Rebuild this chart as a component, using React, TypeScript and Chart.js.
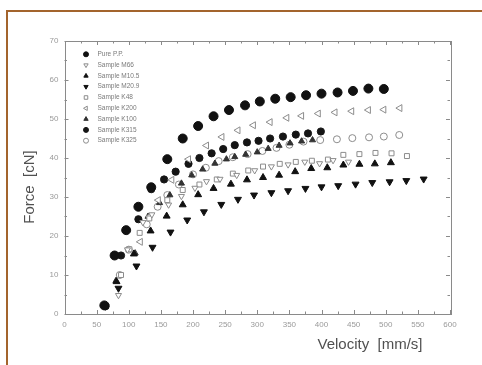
import React, { useEffect, useRef } from 'react';
import { Chart, registerables } from 'chart.js';
import { drawPoint } from 'chart.js/helpers';

Chart.register(...registerables);

// ---- data ----
const seriesNames = [
  'Pure P.P.',
  'Sample M66',
  'Sample M10.5',
  'Sample M20.9',
  'Sample K48',
  'Sample K200',
  'Sample K100',
  'Sample K315',
  'Sample K325',
];

const purePP = [[62,2.2],[78,15],[96,21.5],[115,27.5],[135,32.5],[160,39.7],[184,45],[208,48.2],[232,50.7],[256,52.3],[281,53.5],[304,54.5],[328,55.2],[352,55.6],[376,56.1],[400,56.5],[425,56.8],[449,57.2],[473,57.8],[497,57.7]];
const sampleM66 = [[84,4.8],[98,16.5],[122,23.5],[136,25.5],[162,28],[182,30.2],[203,32.3],[221,34],[242,34.6],[268,35.6],[296,36.8],[322,37.8],[348,38.3],[374,39],[397,38.6],[418,39.4],[442,39]];
const sampleM105 = [[81,8.3],[108,15.4],[134,21.3],[159,25.1],[184,28],[208,30.6],[232,32.2],[259,33.3],[284,34.4],[309,35],[334,35.6],[359,36.5],[384,37.3],[409,37.5],[434,38.2],[459,38.4],[483,38.5],[508,38.8]];
const sampleM209 = [[64,2],[84,6.6],[112,12.3],[137,17.1],[165,21],[191,24.1],[217,26.2],[244,28.1],[270,29.4],[295,30.5],[322,31.1],[348,31.6],[375,32.2],[400,32.6],[426,32.9],[453,33.3],[479,33.7],[506,33.9],[532,34.2],[559,34.6]];
const sampleK48 = [[88,10],[101,16.6],[117,20.8],[132,24.5],[160,29.2],[184,31.8],[210,33.2],[237,34.5],[262,36],[286,36.8],[309,37.8],[335,38.5],[360,39],[385,39.3],[410,39.6],[434,40.8],[459,41],[484,41.3],[509,41.2],[533,40.5]];
const sampleK200 = [[118,18.5],[132,25],[146,29.2],[167,34.4],[193,39.7],[221,43.2],[245,45.4],[270,47.1],[294,48.4],[320,49.2],[346,50.3],[369,50.8],[395,51.4],[421,51.7],[447,52],[473,52.3],[497,52.4],[522,52.8]];
const sampleK100 = [[80,8.5],[110,15.6],[130,25],[148,28.5],[164,30.5],[182,33.5],[198,35.6],[215,37.1],[234,38.6],[252,39.7],[265,40.3],[282,40.9],[300,41.5],[317,42.4],[334,43.2],[351,43.8],[369,44.3],[386,44.6]];
const sampleK315 = [[64,2],[88,15],[115,24.3],[135,32],[155,34.5],[173,36.5],[193,38.5],[210,40],[229,41.2],[247,42.3],[265,43.3],[284,44],[302,44.4],[320,45],[340,45.5],[360,46],[379,46.3],[399,46.8]];
const sampleK325 = [[86,10],[100,16.5],[128,23],[145,27.5],[160,30.5],[178,33.2],[200,35.8],[220,37.5],[240,39.2],[262,40.2],[285,41],[308,41.8],[330,42.6],[350,43.4],[372,44.2],[398,44.6],[424,44.8],[448,45.1],[474,45.3],[497,45.5],[521,45.9]];

const allSeries = [purePP, sampleM66, sampleM105, sampleM209, sampleK48, sampleK200, sampleK100, sampleK315, sampleK325];

const xTickValues = [0, 50, 100, 150, 200, 250, 300, 350, 400, 450, 500, 550, 600];
const yTickValues = [0, 10, 20, 30, 40, 50, 60, 70];

// ---- styles ----
const GRAY = '#8c8c8c';
const styles = [
  { pointStyle: 'circle', rotation: 0, bg: '#111', border: '#111', radius: 4.5 },
  { pointStyle: 'triangle', rotation: 180, bg: '#fff', border: GRAY, radius: 3.5 },
  { pointStyle: 'triangle', rotation: 0, bg: '#111', border: '#111', radius: 4 },
  { pointStyle: 'triangle', rotation: 180, bg: '#111', border: '#111', radius: 4 },
  { pointStyle: 'rect', rotation: 0, bg: '#fff', border: GRAY, radius: 3.5 },
  { pointStyle: 'triangle', rotation: 270, bg: '#fff', border: GRAY, radius: 4 },
  { pointStyle: 'triangle', rotation: 0, bg: '#333', border: '#333', radius: 3.5 },
  { pointStyle: 'circle', rotation: 0, bg: '#151515', border: '#151515', radius: 3.6 },
  { pointStyle: 'circle', rotation: 0, bg: '#fff', border: GRAY, radius: 3.5 },
];

const framePlugin = {
  id: 'frameTicks',
  beforeDatasetsDraw(chart: any) {
    const { ctx, chartArea } = chart;
    const { left, right, top, bottom } = chartArea;
    const xs = chart.scales.x;
    const ys = chart.scales.y;
    ctx.save();
    ctx.strokeStyle = '#8a8a8a';
    ctx.lineWidth = 1;
    ctx.strokeRect(Math.round(left) + 0.5, Math.round(top) + 0.5, Math.round(right - left), Math.round(bottom - top));
    ctx.beginPath();
    for (let v = 0; v <= 600; v += 25) {
      const px = Math.round(xs.getPixelForValue(v)) + 0.5;
      const len = v % 50 === 0 ? 4 : 2.5;
      ctx.moveTo(px, bottom); ctx.lineTo(px, bottom - len);
      ctx.moveTo(px, top); ctx.lineTo(px, top + len);
    }
    for (let v = 0; v <= 70; v += 5) {
      const py = Math.round(ys.getPixelForValue(v)) + 0.5;
      const len = v % 10 === 0 ? 4 : 2.5;
      ctx.moveTo(left, py); ctx.lineTo(left + len, py);
      ctx.moveTo(right, py); ctx.lineTo(right - len, py);
    }
    ctx.stroke();
    ctx.restore();
  },
  afterDraw(chart: any) {
    const { ctx, chartArea } = chart;
    ctx.save();
    // legend
    const lx = chartArea.left + 21.5;
    const tx = chartArea.left + 33;
    chart.data.datasets.forEach((ds: any, i: number) => {
      const y = chartArea.top + 13.3 + i * 10.8;
      const s = styles[i];
      ctx.fillStyle = s.bg;
      ctx.strokeStyle = s.border;
      ctx.lineWidth = 1;
      drawPoint(ctx, { pointStyle: s.pointStyle, rotation: s.rotation, radius: 2.5, borderWidth: 1 } as any, lx, y);
      ctx.fillStyle = '#7a7a7a';
      ctx.font = '6.5px Arial, "Liberation Sans", sans-serif';
      ctx.textBaseline = 'middle';
      ctx.textAlign = 'left';
      ctx.fillText(ds.label, tx, y);
    });
    // titles
    ctx.fillStyle = '#505050';
    ctx.font = '15px Arial, "Liberation Sans", sans-serif';
    ctx.textAlign = 'center';
    ctx.textBaseline = 'middle';
    ctx.fillText('Velocity  [mm/s]', 370, 345);
    ctx.translate(30, 187);
    ctx.rotate(-Math.PI / 2);
    ctx.fillText('Force  [cN]', 0, 0);
    ctx.restore();
  },
};

export default function App() {
  const ref = useRef<HTMLCanvasElement | null>(null);
  useEffect(() => {
    document.body.style.margin = '0';
    const canvas = ref.current;
    if (!canvas) return;
    const chart = new Chart(canvas, {
      type: 'scatter',
      data: {
        datasets: allSeries.map((pts, i) => ({
          label: seriesNames[i],
          data: pts.map(([x, y]) => ({ x, y })),
          showLine: false,
          pointStyle: styles[i].pointStyle as any,
          pointRotation: styles[i].rotation,
          pointRadius: styles[i].radius,
          pointBackgroundColor: styles[i].bg,
          pointBorderColor: styles[i].border,
          pointBorderWidth: 1,
        })),
      },
      options: {
        animation: false,
        responsive: false,
        events: [],
        layout: { padding: { top: 41, right: 32, left: 0, bottom: 0 } },
        plugins: { legend: { display: false }, tooltip: { enabled: false } },
        scales: {
          x: {
            type: 'linear',
            min: 0,
            max: 600,
            afterFit: (s: any) => { s.height = 51; },
            afterBuildTicks: (s: any) => { s.ticks = xTickValues.map((v) => ({ value: v })); },
            grid: { display: false, drawTicks: false },
            border: { display: false },
            ticks: { autoSkip: false, maxRotation: 0, padding: 6, color: '#9a9a9a', font: { size: 8, family: 'Arial, "Liberation Sans", sans-serif' } },
          },
          y: {
            type: 'linear',
            min: 0,
            max: 70,
            afterFit: (s: any) => { s.width = 64.5; },
            afterBuildTicks: (s: any) => { s.ticks = yTickValues.map((v) => ({ value: v })); },
            grid: { display: false, drawTicks: false },
            border: { display: false },
            ticks: { autoSkip: false, padding: 6, color: '#9a9a9a', font: { size: 8, family: 'Arial, "Liberation Sans", sans-serif' } },
          },
        },
      },
      plugins: [framePlugin],
    });
    return () => chart.destroy();
  }, []);

  return (
    <div style={{ position: 'relative', width: 482, height: 365, overflow: 'hidden', background: '#fff' }}>
      <canvas ref={ref} width={482} height={365} style={{ display: 'block', position: 'absolute', left: 0, top: 0 }} />
      <div style={{ position: 'absolute', left: 6, top: 10, width: 2, height: 355, background: '#a3642d' }} />
      <div style={{ position: 'absolute', left: 6, top: 10, width: 476, height: 2, background: '#a3642d' }} />
    </div>
  );
}
